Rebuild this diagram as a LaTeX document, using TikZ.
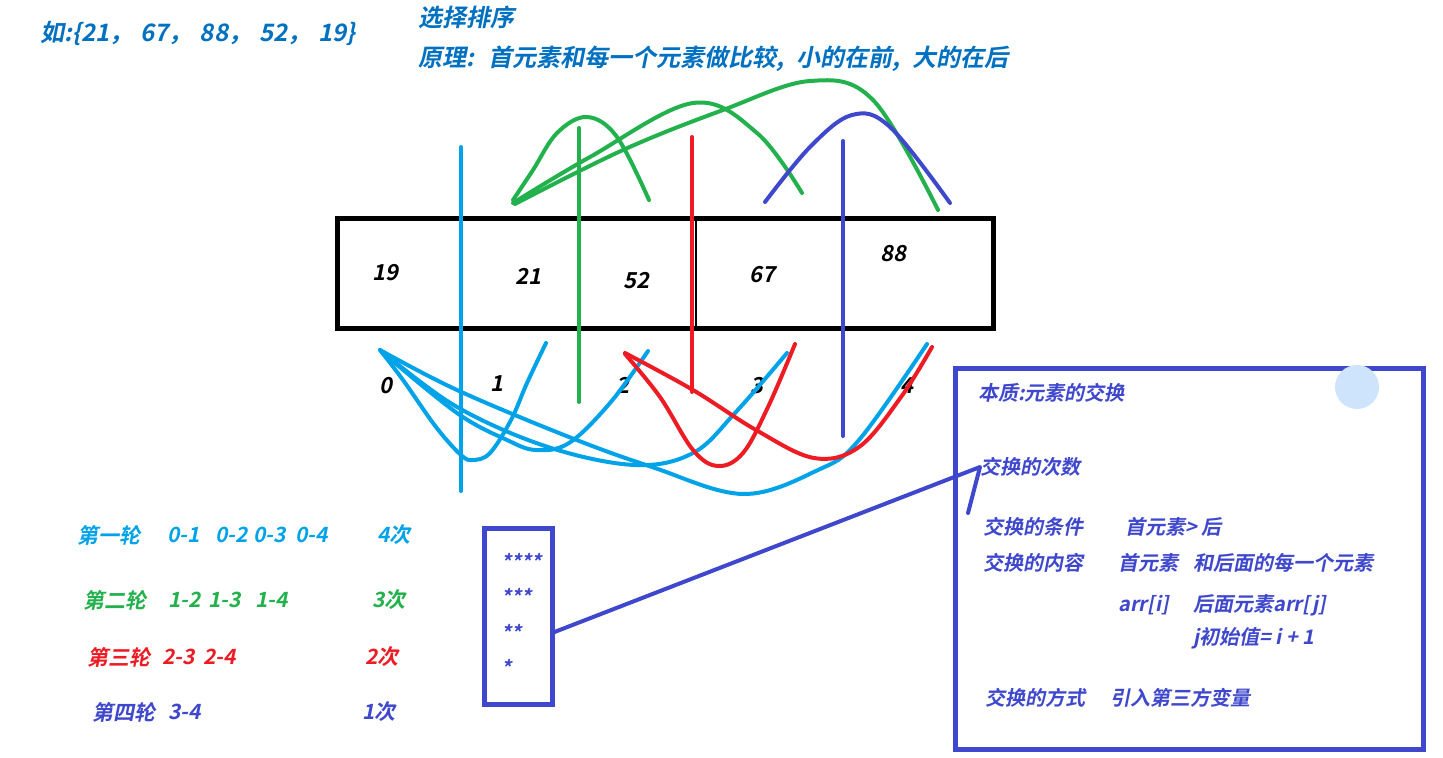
\documentclass[tikz,border=0pt]{standalone}
\usepackage{fontspec}
\newfontfamily\hand{Noto Sans CJK SC Bold}[FakeSlant=0.2]
\definecolor{titleblue}{RGB}{0,112,192}
\definecolor{paintcyan}{RGB}{0,162,232}
\definecolor{paintgreen}{RGB}{34,177,76}
\definecolor{paintred}{RGB}{237,28,36}
\definecolor{paintblue}{RGB}{63,72,204}
\definecolor{bubble}{RGB}{205,228,252}
\begin{document}
\begin{tikzpicture}[x=0.5pt, y=-0.5pt,
  heading/.style={font=\hand\fontsize{12}{14}\selectfont, text=titleblue, anchor=west, inner sep=0pt},
  cellnum/.style={font=\hand\fontsize{11}{13}\selectfont, inner sep=0pt},
  roundtext/.style={font=\hand\fontsize{10.5}{13}\selectfont, anchor=west, inner sep=0pt},
  notetext/.style={font=\hand\fontsize{10}{12}\selectfont, text=paintblue, anchor=west, inner sep=0pt},
  sketchline/.style={line width=2pt, line cap=round, line join=round},
  boxframe/.style={draw=paintblue, line width=2.5pt, inner sep=0pt}]
  \useasboundingbox (0,0) rectangle (1443,758);

  % headings
  \node[heading] (example) at (40,33) {如:\{21，\hspace{3.5pt}67，\hspace{3.5pt}88，\hspace{3.5pt}52，\hspace{3.5pt}19\}};
  \node[heading] (title) at (418,17) {选择排序};
  \node[heading] (principle) at (418,59) {原理:\hspace{3.5pt} 首元素和每一个元素做比较,\hspace{3.5pt} 小的在前,\hspace{3.5pt} 大的在后};

  % the array
  \draw[line width=2.5pt] (337,219) rectangle (993,329);
  \draw[line width=1pt] (578,219) -- (578,329) (696,219) -- (696,329);
  \node[cellnum] (v19) at (385,273) {19};
  \node[cellnum] (v21) at (528,276) {21};
  \node[cellnum] (v52) at (636,281) {52};
  \node[cellnum] (v67) at (762,275) {67};
  \node[cellnum] (v88) at (893,254) {88};
  \node[cellnum] (i0) at (386,386) {0};
  \node[cellnum] (i1) at (497,384) {1};
  \node[cellnum] (i2) at (623,385) {2};
  \node[cellnum] (i3) at (757,386) {3};
  \node[cellnum] (i4) at (907,386) {4};

  % round separators
  \draw[sketchline, paintcyan] (461,147) -- (461,491);
  \draw[sketchline, paintgreen] (579,128) -- (579,402);
  \draw[sketchline, paintred] (692,137) -- (692,392);
  \draw[sketchline, paintblue] (843,141) -- (843,436);

  % round 1: 0-1 0-2 0-3 0-4
  \draw[sketchline, paintcyan] plot[smooth, tension=0.6] coordinates {(380,350) (403,380) (436,427) (461,455) (473,460) (490,453) (511,420) (527,383) (546,343)};
  \draw[sketchline, paintcyan] plot[smooth, tension=0.6] coordinates {(382,352) (457,413) (507,440) (536,450) (569,443) (610,403) (648,351)};
  \draw[sketchline, paintcyan] plot[smooth, tension=0.6] coordinates {(384,353) (457,407) (548,447) (635,465) (693,453) (735,413) (787,353)};
  \draw[sketchline, paintcyan] plot[smooth, tension=0.6] coordinates {(380,350) (457,390) (569,437) (652,467) (743,494) (818,470) (859,440) (927,344)};

  % round 2: 1-2 1-3 1-4
  \draw[sketchline, paintgreen] plot[smooth, tension=0.6] coordinates {(513,200) (533,170) (557,133) (587,117) (617,137) (649,200)};
  \draw[sketchline, paintgreen] plot[smooth, tension=0.6] coordinates {(513,203) (590,157) (693,103) (757,133) (802,193)};
  \draw[sketchline, paintgreen] plot[smooth, tension=0.6] coordinates {(515,204) (623,150) (723,110) (810,81) (873,100) (938,210)};

  % round 3: 2-3 2-4
  \draw[sketchline, paintred] plot[smooth, tension=0.6] coordinates {(625,354) (660,397) (693,450) (718,466) (743,453) (768,407) (795,344)};
  \draw[sketchline, paintred] plot[smooth, tension=0.6] coordinates {(625,353) (693,390) (756,430) (814,458) (859,447) (901,397) (932,347)};

  % round 4: 3-4
  \draw[sketchline, paintblue] plot[smooth, tension=0.6] coordinates {(765,202) (810,147) (852,115) (890,127) (950,203)};

  % rounds legend
  \node[roundtext, text=paintcyan] (r1) at (77,535) {第一轮};
  \node[roundtext, text=paintcyan] (r1a) at (167,535) {0-1};
  \node[roundtext, text=paintcyan] (r1b) at (215,535) {0-2};
  \node[roundtext, text=paintcyan] (r1c) at (253,535) {0-3};
  \node[roundtext, text=paintcyan] (r1d) at (295,535) {0-4};
  \node[roundtext, text=paintcyan] (r1n) at (377,535) {4次};

  \node[roundtext, text=paintgreen] (r2) at (83,600) {第二轮};
  \node[roundtext, text=paintgreen] (r2a) at (168,600) {1-2};
  \node[roundtext, text=paintgreen] (r2b) at (208,600) {1-3};
  \node[roundtext, text=paintgreen] (r2c) at (255,600) {1-4};
  \node[roundtext, text=paintgreen] (r2n) at (372,600) {3次};

  \node[roundtext, text=paintred] (r3) at (87,657) {第三轮};
  \node[roundtext, text=paintred] (r3a) at (162,657) {2-3};
  \node[roundtext, text=paintred] (r3b) at (203,657) {2-4};
  \node[roundtext, text=paintred] (r3n) at (365,657) {2次};

  \node[roundtext, text=paintblue] (r4) at (92,712) {第四轮};
  \node[roundtext, text=paintblue] (r4a) at (168,712) {3-4};
  \node[roundtext, text=paintblue] (r4n) at (362,712) {1次};

  % stars box
  \node[boxframe, minimum width=34pt, minimum height=88pt] (stars) at (518,616) {};
  \node[notetext] (s4) at (501,561) {****};
  \node[notetext] (s3) at (501,596) {***};
  \node[notetext] (s2) at (501,632) {**};
  \node[notetext] (s1) at (501,667) {*};

  % notes box
  \node[boxframe, minimum width=234pt, minimum height=190pt] (notes) at (1189,559) {};
  \fill[bubble] (1357,387) circle[radius=11pt];
  \node[notetext] (essence) at (978,393) {本质:元素的交换};
  \node[notetext] (count) at (980,467) {交换的次数};
  \node[notetext] (cond) at (983,527) {交换的条件};
  \node[notetext] (condv) at (1125,527) {首元素> 后};
  \node[notetext] (what) at (983,563) {交换的内容};
  \node[notetext] (whata) at (1118,563) {首元素};
  \node[notetext] (whatb) at (1193,563) {和后面的每一个元素};
  \node[notetext] (arri) at (1118,605) {arr[i]};
  \node[notetext] (arrj) at (1193,605) {后面元素arr[j]};
  \node[notetext] (jinit) at (1193,638) {j初始值= i + 1};
  \node[notetext] (how) at (985,698) {交换的方式};
  \node[notetext] (howv) at (1110,698) {引入第三方变量};

  % link
  \draw[sketchline, paintblue] (stars.east |- s2) -- (count.west) -- ++(-12,46);
\end{tikzpicture}
\end{document}
